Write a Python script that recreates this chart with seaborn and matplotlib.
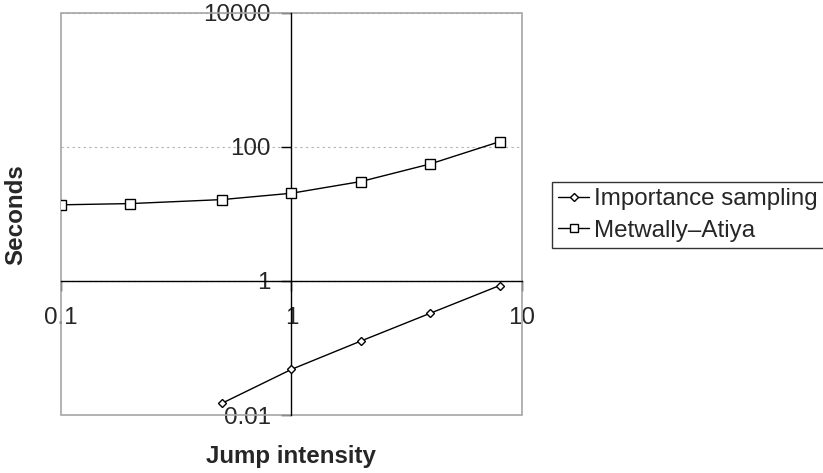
"""
Jump intensity vs run time (log-log), Importance sampling vs Metwally-Atiya
"""
import pandas as pd
import matplotlib.pyplot as plt
import matplotlib.patches as mpatches
import matplotlib.ticker as mticker
import seaborn as sns

# --- data ---
IS_X = [0.5, 1, 2, 4, 8]
IS_Y = [0.015, 0.048, 0.127, 0.33, 0.855]
MA_X = [0.1, 0.2, 0.5, 1, 2, 4, 8]
MA_Y = [13.7, 14.3, 16.4, 20.4, 30.5, 55.8, 120]
SERIES = ["Importance sampling", "Metwally\u2013Atiya"]
X_TICKS = [0.1, 1, 10]
X_LABELS = ["0.1", "1", "10"]
Y_TICKS = [0.01, 1, 100, 10000]
Y_LABELS = ["0.01", "1", "100", "10000"]

FS = 17.4

sns.set_style("white")
plt.rcParams["font.family"] = ["Liberation Sans", "DejaVu Sans"]
plt.rcParams["font.size"] = FS

fig = plt.figure(figsize=(8.23, 4.73), dpi=100)
ax = fig.add_axes([0.0741, 0.1226, 0.5601, 0.85])

is_df = pd.DataFrame({"x": IS_X, "y": IS_Y})
ma_df = pd.DataFrame({"x": MA_X, "y": MA_Y})

sns.lineplot(data=is_df, x="x", y="y", ax=ax, color="black", lw=1,
             marker="D", markersize=4.5, markerfacecolor="white",
             markeredgecolor="black", markeredgewidth=1, label=SERIES[0],
             zorder=5)
sns.lineplot(data=ma_df, x="x", y="y", ax=ax, color="black", lw=1,
             marker="s", markersize=7, markerfacecolor="white",
             markeredgecolor="black", markeredgewidth=1, label=SERIES[1],
             zorder=5)

ax.set_xscale("log")
ax.set_yscale("log")
ax.set_xlim(0.1, 10)
ax.set_ylim(0.01, 10000)
ax.set_xticks(X_TICKS)
ax.set_xticklabels(X_LABELS)
ax.set_yticks(Y_TICKS)
ax.set_yticklabels(Y_LABELS)
ax.xaxis.set_minor_locator(mticker.NullLocator())
ax.yaxis.set_minor_locator(mticker.NullLocator())

# axes cross at (1, 1)
ax.spines["left"].set_position(("data", 1))
ax.spines["bottom"].set_position(("data", 1))
for s in ["left", "bottom"]:
    ax.spines[s].set_color("black")
    ax.spines[s].set_linewidth(1)
    ax.spines[s].set_zorder(3)
for s in ["top", "right"]:
    ax.spines[s].set_visible(False)

# grey plot-area border
ax.add_patch(mpatches.Rectangle((0, 0), 1, 1, transform=ax.transAxes,
                                fill=False, edgecolor="#a6a6a6", lw=1.2,
                                clip_on=False, zorder=1))

ax.tick_params(axis="both", which="major", direction="out", length=7,
               width=1, color="black", labelsize=FS, bottom=True, left=True)
ax.tick_params(axis="x", pad=12)
ax.tick_params(axis="y", pad=8)

ax.yaxis.grid(True, which="major", color="#b0b0b0", linestyle=(0, (2, 3)),
              lw=0.8)
ax.xaxis.grid(False)
ax.set_xlabel("")
ax.set_ylabel("")

fig.text(0.0194, 0.547, "Seconds", rotation=90, ha="center", va="center",
         fontsize=FS, fontweight="bold")
fig.text(0.353, 0.034, "Jump intensity", ha="center", va="center",
         fontsize=FS, fontweight="bold")

handles, labels = ax.get_legend_handles_labels()
ax.get_legend().remove()
leg = fig.legend(handles, labels, loc="upper left",
                 bbox_to_anchor=(0.6707, 0.6152), frameon=True, fancybox=False,
                 edgecolor="black", handlelength=1.3, handletextpad=0.2,
                 labelspacing=0.4, borderpad=0.25, borderaxespad=0,
                 markerscale=0.8, fontsize=FS)
leg.get_frame().set_linewidth(1)

fig.savefig("out.png", dpi=100)
